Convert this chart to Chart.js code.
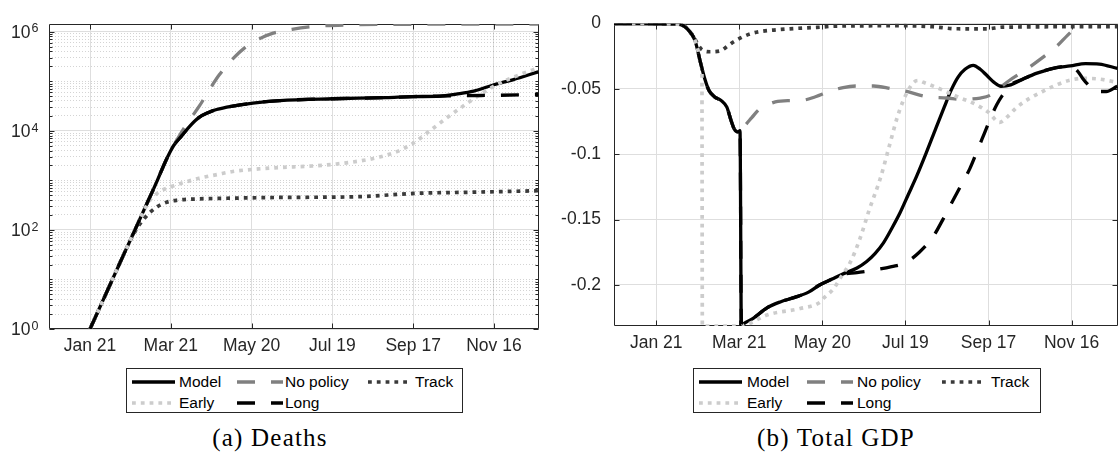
<!DOCTYPE html>
<html lang="en">
<head>
<meta charset="UTF-8">
<title>Deaths and Total GDP</title>
<script src="https://cdn.jsdelivr.net/npm/chart.js"></script>
<style>
    * { margin: 0; padding: 0; box-sizing: border-box; }
    body {
        width: 1119px;
        height: 457px;
        background: #fff;
        position: relative;
        overflow: hidden;
        font-family: 'Liberation Sans', Arial, sans-serif;
    }
    .chart-box { position: absolute; top: 0; height: 360px; }
    #deathsBox { left: 0; width: 550px; }
    #gdpBox { left: 560px; width: 559px; }
    .legend {
        position: absolute;
        top: 368px;
        height: 45px;
        border: 1px solid #262626;
        background: #fff;
    }
    .legend-item {
        position: absolute;
        height: 21px;
        display: flex;
        align-items: center;
        font-size: 15.5px;
        color: #000;
        white-space: nowrap;
    }
    .legend-item svg { display: block; flex: none; }
    .caption {
        position: absolute;
        top: 424px;
        line-height: 28px;
        font-family: 'Liberation Serif', 'Times New Roman', serif;
        font-size: 25px;
        letter-spacing: 1.2px;
        color: #000;
        transform: translateX(-50%);
        white-space: nowrap;
    }
</style>
</head>
<body>
    <div class="chart-box" id="deathsBox"><canvas id="deathsChart"></canvas></div>
    <div class="chart-box" id="gdpBox"><canvas id="gdpChart"></canvas></div>
    <div class="legend" id="deathsLegend" style="left:126px; width:337px;"></div>
    <div class="legend" id="gdpLegend" style="left:693px; width:348px;"></div>
    <div class="caption" style="left:270px;">(a) Deaths</div>
    <div class="caption" style="left:836px;">(b) Total GDP</div>

<script>
// ---- x axis: days counted from Jan 21 ----
const dayMin = -30.5;
const dayMax = 333.5;
const dayTicks = [0, 60, 120, 180, 240, 300];
const dayLabels = ['Jan 21', 'Mar 21', 'May 20', 'Jul 19', 'Sep 17', 'Nov 16'];

// ---- deaths (log axis), labels are 10 with an exponent ----
const deathMin = 1;
const deathMax = 1.43e6;
const deathTickValues = [1, 1e2, 1e4, 1e6];
const deathTickBase = '10';
const deathTickExps = ['0', '2', '4', '6'];

const modelDeathDays = [0, 10, 20, 30, 40, 50, 56, 60, 62, 68, 74, 81, 88, 94, 106, 121, 141, 180, 220, 240, 260, 272, 285, 300, 314, 333];
const modelDeaths = [1, 4, 16, 63, 250, 1000, 2400, 4000, 5000, 7900, 12300, 18600, 23400, 26900, 31600, 36300, 40700, 44300, 46800, 49000, 50100, 55000, 63000, 85000, 107000, 155000];

const noPolicyDeathDays = [0, 10, 20, 30, 40, 50, 56, 60, 62, 67, 74, 81, 88, 96, 106, 116, 126, 136, 150, 168, 195, 230, 333];
const noPolicyDeaths = [1, 4, 16, 63, 250, 1000, 2400, 4000, 5000, 8500, 16600, 31000, 63000, 135000, 282000, 500000, 724000, 933000, 1120000, 1290000, 1380000, 1410000, 1430000];

const trackDeathDays = [0, 10, 20, 28, 32, 36, 40, 44, 50, 57, 65, 80, 106, 141, 200, 225, 245, 282, 333];
const trackDeaths = [1, 4, 16, 48, 79, 120, 166, 219, 295, 363, 398, 422, 437, 452, 468, 513, 550, 575, 617];

const earlyDeathDays = [0, 10, 20, 30, 36, 40, 44, 48, 52, 61, 70, 81, 95, 106, 125, 141, 165, 183, 200, 215, 228, 240, 252, 265, 282, 302, 319, 333];
const earlyDeaths = [1, 4, 16, 63, 145, 245, 380, 500, 600, 760, 910, 1100, 1320, 1510, 1700, 1820, 1950, 2140, 2450, 2950, 3800, 5600, 9800, 18200, 38900, 85000, 135000, 186000];

const longDeathDays = [0, 10, 20, 30, 40, 50, 56, 60, 62, 68, 74, 81, 88, 94, 106, 121, 141, 180, 220, 240, 260, 280, 300, 333];
const longDeaths = [1, 4, 16, 63, 250, 1000, 2400, 4000, 5000, 7900, 12300, 18600, 23400, 26900, 31600, 36300, 40700, 44300, 46800, 49000, 50100, 51300, 51900, 53700];

// ---- total GDP (deviation) ----
const gdpMin = -0.2314;
const gdpMax = 0;
const gdpTickValues = [0, -0.05, -0.1, -0.15, -0.2];
const gdpTickLabels = ['0', '-0.05', '-0.1', '-0.15', '-0.2'];

const modelGdpDays = [-30.5, 15, 20, 24, 28, 32, 35, 38, 42, 47, 51, 54, 56.5, 59, 60.5, 61.5, 63, 70, 80, 90, 100, 110, 118, 127, 134, 145, 152, 158, 164, 170, 176, 182, 188, 195, 202, 208, 213, 218, 223, 229, 234, 239, 244, 249, 256, 265, 275, 289, 299, 310, 320, 333];
const modelGdp = [0, -0.0005, -0.002, -0.006, -0.013, -0.030, -0.042, -0.051, -0.056, -0.059, -0.064, -0.074, -0.081, -0.083, -0.082, -0.2314, -0.2298, -0.2255, -0.2175, -0.2128, -0.2095, -0.2055, -0.2, -0.1955, -0.192, -0.187, -0.182, -0.176, -0.168, -0.157, -0.145, -0.131, -0.117, -0.099, -0.080, -0.064, -0.051, -0.041, -0.035, -0.032, -0.035, -0.040, -0.045, -0.048, -0.047, -0.0425, -0.038, -0.0337, -0.0325, -0.0307, -0.031, -0.0344];

const noPolicyGdpDays = [-30.5, 15, 20, 24, 28, 32, 35, 38, 42, 47, 51, 54, 56.5, 60, 64, 69, 74, 79, 86, 95, 105, 115, 125, 135, 145, 157, 170, 181, 195, 210, 220, 234, 241, 246, 255, 266, 277, 289, 297, 305, 312, 333];
const noPolicyGdp = [0, -0.0005, -0.002, -0.006, -0.013, -0.030, -0.042, -0.051, -0.056, -0.059, -0.064, -0.074, -0.081, -0.082, -0.078, -0.072, -0.066, -0.063, -0.060, -0.059, -0.0588, -0.056, -0.052, -0.049, -0.0478, -0.0478, -0.050, -0.052, -0.056, -0.057, -0.058, -0.057, -0.055, -0.051, -0.0436, -0.036, -0.0276, -0.0177, -0.0091, -0.001, 0.006, 0.025];

const trackGdpDays = [-30.5, 15, 20, 24, 27, 30, 33, 39, 46, 52, 56, 62, 68, 76, 85, 100, 116, 130, 180, 200, 216, 239, 250, 333];
const trackGdp = [0, -0.0003, -0.0015, -0.006, -0.010, -0.016, -0.020, -0.0216, -0.021, -0.017, -0.014, -0.0105, -0.0079, -0.006, -0.005, -0.0038, -0.003, -0.002, -0.0017, -0.0025, -0.004, -0.0041, -0.0028, -0.0024];

const earlyGdpDays = [-30.5, 15, 20, 24, 28, 30, 32, 33, 33.3, 61, 65, 80, 104, 118, 121, 128, 134, 140, 147, 154, 162, 168, 174, 178, 182, 186, 189, 193, 198, 207, 217, 231, 240, 248, 254, 260, 270, 279, 289, 298, 308, 318, 333];
const earlyGdp = [0, -0.0005, -0.002, -0.006, -0.013, -0.020, -0.030, -0.038, -0.2314, -0.2314, -0.2305, -0.223, -0.218, -0.2134, -0.21, -0.203, -0.193, -0.183, -0.165, -0.142, -0.118, -0.095, -0.072, -0.06, -0.051, -0.045, -0.0436, -0.045, -0.047, -0.051, -0.0558, -0.062, -0.068, -0.0756, -0.071, -0.0645, -0.057, -0.052, -0.047, -0.0436, -0.042, -0.0423, -0.045];

const longGdpDays = [-30.5, 15, 20, 24, 28, 32, 35, 38, 42, 47, 51, 54, 56.5, 59, 60.5, 61.5, 63, 70, 80, 90, 100, 110, 118, 127, 134, 145, 158, 170, 180, 190, 200, 207, 214, 220, 226.5, 232, 237, 242, 246, 250, 253, 256, 265, 275, 289, 299, 304, 308, 313, 318, 325, 333];
const longGdp = [0, -0.0005, -0.002, -0.006, -0.013, -0.030, -0.042, -0.051, -0.056, -0.059, -0.064, -0.074, -0.081, -0.083, -0.082, -0.2314, -0.2298, -0.2255, -0.2175, -0.2128, -0.2095, -0.2055, -0.2, -0.1955, -0.192, -0.1905, -0.1885, -0.186, -0.183, -0.175, -0.163, -0.150, -0.136, -0.124, -0.111, -0.097, -0.084, -0.071, -0.062, -0.055, -0.051, -0.047, -0.0425, -0.038, -0.0337, -0.0325, -0.036, -0.042, -0.048, -0.052, -0.052, -0.048];

// ---- line styles, drawn bottom (Model) to top (Long) ----
const seriesStyle = {
    'Model':     { color: '#000000', width: 3.3, dash: [],        order: 5 },
    'No policy': { color: '#808080', width: 3.3, dash: [18, 16],  order: 4 },
    'Track':     { color: '#3a3a3a', width: 3.7, dash: [3.8, 5],  order: 3 },
    'Early':     { color: '#cccccc', width: 3.7, dash: [3.8, 5],  order: 2 },
    'Long':      { color: '#000000', width: 3.3, dash: [18, 16],  order: 1 }
};

const FONT = "'Liberation Sans', Arial, sans-serif";
Chart.defaults.font.family = FONT;
Chart.defaults.font.size = 17.5;
Chart.defaults.color = '#262626';

function makeDataset(name, days, values) {
    const s = seriesStyle[name];
    return {
        label: name,
        data: days.map((d, i) => ({ x: d, y: values[i] })),
        borderColor: s.color,
        borderWidth: s.width,
        borderDash: s.dash,
        borderCapStyle: 'butt',
        borderJoinStyle: 'round',
        pointRadius: 0,
        cubicInterpolationMode: 'monotone',
        clip: 0,
        order: s.order
    };
}

const isDeathMajor = v => deathTickValues.some(t => Math.abs(Math.log10(v) - Math.log10(t)) < 1e-9);

// box round the plot area plus inward tick marks on all four sides
const framePlugin = {
    id: 'frame',
    beforeDatasetsDraw(chart) {
        const { ctx, chartArea: a, scales } = chart;
        const logY = scales.y.type === 'logarithmic';
        const L = Math.round(a.left) + 0.5, R = Math.round(a.right) - 0.5;
        const T = Math.round(a.top) + 0.5, B = Math.round(a.bottom) - 0.5;
        ctx.save();
        ctx.strokeStyle = '#262626';
        ctx.lineWidth = 1;
        ctx.beginPath();
        scales.x.ticks.forEach(t => {
            const px = Math.round(scales.x.getPixelForValue(t.value)) + 0.5;
            ctx.moveTo(px, B); ctx.lineTo(px, B - 5);
            ctx.moveTo(px, T); ctx.lineTo(px, T + 5);
        });
        scales.y.ticks.forEach(t => {
            const py = Math.round(scales.y.getPixelForValue(t.value)) + 0.5;
            const len = (!logY || isDeathMajor(t.value)) ? 5 : 3;
            ctx.moveTo(L, py); ctx.lineTo(L + len, py);
            ctx.moveTo(R, py); ctx.lineTo(R - len, py);
        });
        ctx.rect(L, T, R - L, B - T);
        ctx.stroke();
        ctx.restore();
    }
};

// power-of-ten labels with a raised exponent
const powerLabelPlugin = {
    id: 'powerLabels',
    afterDraw(chart) {
        const { ctx, chartArea: a, scales } = chart;
        ctx.save();
        ctx.fillStyle = '#262626';
        deathTickValues.forEach((v, i) => {
            const py = scales.y.getPixelForValue(v);
            ctx.font = '17.5px ' + FONT;
            ctx.textAlign = 'right';
            ctx.textBaseline = 'middle';
            ctx.fillText(deathTickBase, a.left - 18.5, py + 1.5);
            ctx.font = '12.5px ' + FONT;
            ctx.textAlign = 'left';
            ctx.textBaseline = 'alphabetic';
            ctx.fillText(deathTickExps[i], a.left - 17.5, py + 0.8);
        });
        ctx.restore();
    }
};

const xScale = (axisHeight) => ({
    type: 'linear',
    min: dayMin,
    max: dayMax,
    afterBuildTicks: s => { s.ticks = dayTicks.map(v => ({ value: v })); },
    afterFit: s => { s.height = axisHeight; },
    ticks: {
        autoSkip: false,
        maxRotation: 0,
        padding: 7,
        callback: v => dayLabels[dayTicks.indexOf(v)]
    },
    grid: { color: '#dedede', lineWidth: 1, drawTicks: false },
    border: { display: false }
});

const baseOptions = (padding) => ({
    responsive: true,
    maintainAspectRatio: false,
    animation: false,
    events: [],
    layout: { padding },
    plugins: { legend: { display: false }, tooltip: { enabled: false } }
});

// log grid: every 1..9 x 10^k between the axis limits
const deathGrid = [];
for (let k = 0; k <= 6; k++) {
    for (let m = 1; m <= 9; m++) {
        const v = m * Math.pow(10, k);
        if (v <= deathMax) deathGrid.push(v);
    }
}

new Chart(document.getElementById('deathsChart'), {
    type: 'line',
    data: {
        datasets: [
            makeDataset('Model', modelDeathDays, modelDeaths),
            makeDataset('No policy', noPolicyDeathDays, noPolicyDeaths),
            makeDataset('Track', trackDeathDays, trackDeaths),
            makeDataset('Early', earlyDeathDays, earlyDeaths),
            makeDataset('Long', longDeathDays, longDeaths)
        ]
    },
    options: Object.assign(baseOptions({ top: 24, right: 11, left: 0, bottom: 0 }), {
        scales: {
            x: xScale(31),
            y: {
                type: 'logarithmic',
                min: deathMin,
                max: deathMax,
                afterBuildTicks: s => { s.ticks = deathGrid.map(v => ({ value: v })); },
                afterFit: s => { s.width = 49; },
                ticks: { display: false, autoSkip: false },
                grid: {
                    drawTicks: false,
                    lineWidth: 1,
                    color: c => (c.tick && isDeathMajor(c.tick.value)) ? '#dedede' : 'rgba(0,0,0,0.17)'
                },
                border: {
                    display: false,
                    dash: c => (c.tick && isDeathMajor(c.tick.value)) ? [] : [1, 2]
                }
            }
        }
    }),
    plugins: [framePlugin, powerLabelPlugin]
});

new Chart(document.getElementById('gdpChart'), {
    type: 'line',
    data: {
        datasets: [
            makeDataset('Model', modelGdpDays, modelGdp),
            makeDataset('No policy', noPolicyGdpDays, noPolicyGdp),
            makeDataset('Track', trackGdpDays, trackGdp),
            makeDataset('Early', earlyGdpDays, earlyGdp),
            makeDataset('Long', longGdpDays, longGdp)
        ]
    },
    options: Object.assign(baseOptions({ top: 13, right: 1, left: 0, bottom: 0 }), {
        scales: {
            x: xScale(34),
            y: {
                type: 'linear',
                min: gdpMin,
                max: gdpMax,
                afterBuildTicks: s => { s.ticks = gdpTickValues.map(v => ({ value: v })); },
                afterFit: s => { s.width = 54; },
                ticks: {
                    autoSkip: false,
                    padding: 13,
                    callback: v => gdpTickLabels[gdpTickValues.indexOf(v)]
                },
                grid: { color: '#dedede', lineWidth: 1, drawTicks: false },
                border: { display: false }
            }
        }
    }),
    plugins: [framePlugin]
});

// legend boxes: three columns, filled row by row
const legendNames = ['Model', 'No policy', 'Track', 'Early', 'Long'];
const legendLayouts = {
    deathsLegend: { sampleLeft: [5, 110, 241], sampleLen: [43, 46, 43], textLeft: [52, 158, 288] },
    gdpLegend:    { sampleLeft: [5, 113, 248], sampleLen: [43, 46, 43], textLeft: [53, 163, 297] }
};
const legendRowTop = [2, 23];

Object.keys(legendLayouts).forEach(id => {
    const box = document.getElementById(id);
    const lay = legendLayouts[id];
    legendNames.forEach((name, i) => {
        const col = i % 3, row = Math.floor(i / 3);
        const s = seriesStyle[name];
        const len = lay.sampleLen[col];
        const item = document.createElement('div');
        item.className = 'legend-item';
        item.style.left = lay.sampleLeft[col] + 'px';
        item.style.top = legendRowTop[row] + 'px';
        const dash = s.dash.length ? ` stroke-dasharray="${s.dash.join(' ')}"` : '';
        item.innerHTML =
            `<svg width="${len}" height="10"><line x1="0" y1="5" x2="${len}" y2="5" stroke="${s.color}" stroke-width="${s.width}"${dash}/></svg>` +
            `<span style="margin-left:${lay.textLeft[col] - lay.sampleLeft[col] - len}px">${name}</span>`;
        box.appendChild(item);
    });
});
</script>
</body>
</html>
